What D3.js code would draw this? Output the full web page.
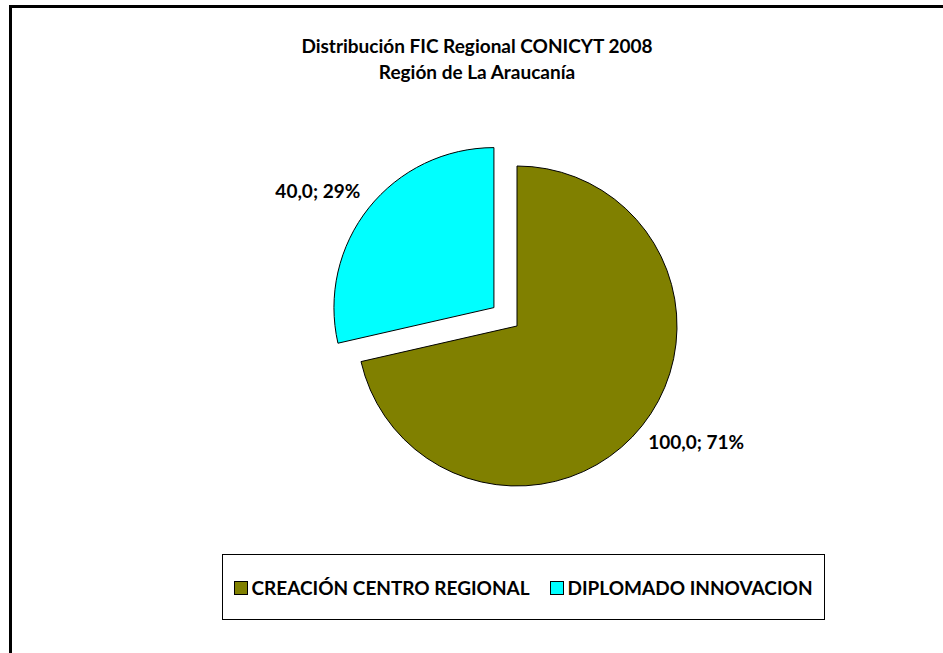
<!DOCTYPE html>
<html>
<head>
<meta charset="utf-8">
<script src="https://cdn.jsdelivr.net/npm/d3@7"></script>
<style>
  body { margin: 0; background: #fff; }
  text { font-family: Lato, "Liberation Sans", sans-serif; font-weight: bold; fill: #000; }
</style>
</head>
<body>
<div id="chart"></div>
<script>
// chart data
var categories = ["CREACIÓN CENTRO REGIONAL", "DIPLOMADO INNOVACION"];
var values = [100.0, 40.0];
var colors = ["#808000", "#00FFFF"];
var titleLines = ["Distribución FIC Regional CONICYT 2008", "Región de La Araucanía"];

var svgWidth = 943;
var svgHeight = 653;

var svg = d3.select("#chart")
    .append("svg")
    .attr("width", svgWidth)
    .attr("height", svgHeight);

// outer chart frame (runs off the right/bottom edge like the original)
svg.append("rect")
    .attr("x", 10.5)
    .attr("y", 6.5)
    .attr("width", 960)
    .attr("height", 700)
    .attr("fill", "white")
    .attr("stroke", "black")
    .attr("stroke-width", 3);

// title
svg.selectAll(".title")
    .data(titleLines)
    .enter()
    .append("text")
    .attr("class", "title")
    .attr("x", 477)
    .attr("y", (d, i) => 53 + i * 26)
    .attr("text-anchor", "middle")
    .style("font-size", "19px")
    .text(d => d);

// pie
var cx = 517, cy = 326, radius = 160, explode = 29.5;
var total = d3.sum(values);

var pie = d3.pie().sort(null).value(d => d)(values);
var arc = d3.arc().innerRadius(0).outerRadius(radius);

var pieGroup = svg.append("g")
    .attr("transform", `translate(${cx}, ${cy})`);

var slices = pieGroup.selectAll("g.slice")
    .data(pie)
    .enter()
    .append("g")
    .attr("class", "slice")
    .attr("transform", function (d) {
        if (d.index === 1) {
            var a = (d.startAngle + d.endAngle) / 2;
            return `translate(${Math.sin(a) * explode}, ${-Math.cos(a) * explode})`;
        }
        return null;
    });

slices.append("path")
    .attr("d", arc)
    .attr("fill", (d, i) => colors[i])
    .attr("stroke", "black")
    .attr("stroke-width", 1);

// data labels "value; pct"
slices.append("text")
    .attr("x", function (d) {
        var a = (d.startAngle + d.endAngle) / 2;
        return Math.sin(a) * radius * 1.42 + 1.5;
    })
    .attr("y", function (d) {
        var a = (d.startAngle + d.endAngle) / 2;
        return -Math.cos(a) * radius * 1.17;
    })
    .attr("dy", "0.35em")
    .attr("text-anchor", "middle")
    .style("font-size", "19px")
    .text(d => d3.format(".1f")(d.value).replace(".", ",") + "; " + Math.round(d.value / total * 100) + "%");

// legend
var legend = svg.append("g");
legend.append("rect")
    .attr("x", 222.5)
    .attr("y", 554.5)
    .attr("width", 602)
    .attr("height", 65)
    .attr("fill", "white")
    .attr("stroke", "black")
    .attr("stroke-width", 1);

var legendX = [234, 550];
var items = legend.selectAll("g.item")
    .data(categories)
    .enter()
    .append("g")
    .attr("class", "item")
    .attr("transform", (d, i) => `translate(${legendX[i]}, 588)`);

items.append("rect")
    .attr("x", 0.5)
    .attr("y", -6.5)
    .attr("width", 13)
    .attr("height", 13)
    .attr("fill", (d, i) => colors[i])
    .attr("stroke", "black");

items.append("text")
    .attr("x", 17.5)
    .attr("y", 0)
    .attr("dy", "0.35em")
    .style("font-size", "19px")
    .text(d => d);
</script>
</body>
</html>
